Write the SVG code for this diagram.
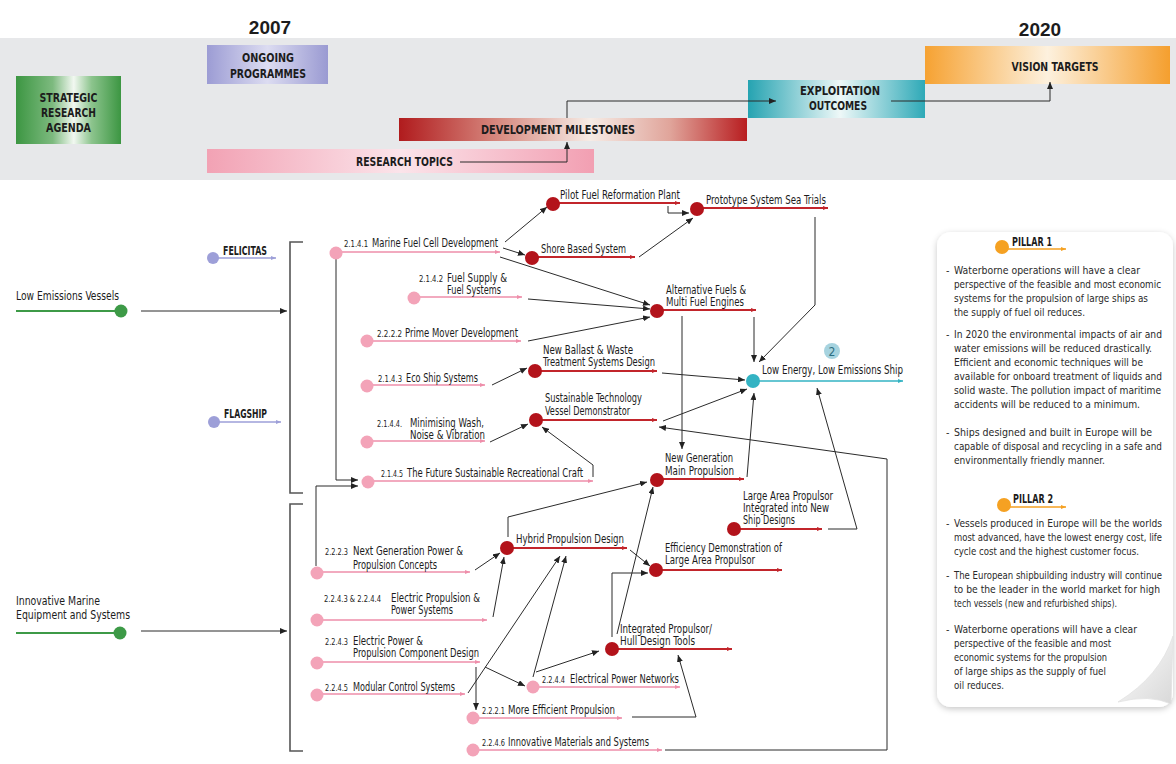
<svg xmlns="http://www.w3.org/2000/svg" width="1176" height="764" viewBox="0 0 1176 764">
<style>
.f{font-family:"Liberation Sans Narrow","Arial Narrow","DejaVu Sans Condensed","Liberation Sans",Arial,sans-serif;fill:#1c1c1c}
.l{font-size:11.8px}
.n{font-size:8.5px}
.h{font-size:11.5px;font-weight:bold}
.yr{font-size:19px;font-weight:bold;font-family:"Liberation Sans",Arial,sans-serif;fill:#1c1c1c}
.p{font-size:10.6px;fill:#2a2a2a}
.ps{font-size:9.8px}
.c{fill:none;stroke:#2b2b2b;stroke-width:1;marker-end:url(#arr)}
.pk{stroke:#ee8eaa;stroke-width:1.6;marker-end:url(#mPk)}
.rd{stroke:#c2252b;stroke-width:2;marker-end:url(#mRd)}
.pd{fill:#f3a3b8}
.rdd{fill:#b3131b}
</style>
<defs>
<marker id="arr" markerUnits="userSpaceOnUse" markerWidth="7" markerHeight="6" refX="7" refY="3" orient="auto"><path d="M0,0 L7,3 L0,6 z" fill="#222"/></marker>
<marker id="mPk" markerUnits="userSpaceOnUse" markerWidth="5" markerHeight="4" refX="5" refY="2" orient="auto"><path d="M0,0 L5,2 L0,4 z" fill="#ee8eaa"/></marker>
<marker id="mRd" markerUnits="userSpaceOnUse" markerWidth="5" markerHeight="4" refX="5" refY="2" orient="auto"><path d="M0,0 L5,2 L0,4 z" fill="#c2252b"/></marker>
<marker id="mTl" markerUnits="userSpaceOnUse" markerWidth="5" markerHeight="4" refX="5" refY="2" orient="auto"><path d="M0,0 L5,2 L0,4 z" fill="#33b3c3"/></marker>
<marker id="mLv" markerUnits="userSpaceOnUse" markerWidth="5" markerHeight="4" refX="5" refY="2" orient="auto"><path d="M0,0 L5,2 L0,4 z" fill="#9d9fd8"/></marker>
<marker id="mOr" markerUnits="userSpaceOnUse" markerWidth="5" markerHeight="4" refX="5" refY="2" orient="auto"><path d="M0,0 L5,2 L0,4 z" fill="#f5a122"/></marker>
<linearGradient id="gG" x1="0" x2="1" y1="0" y2="0"><stop offset="0" stop-color="#3c9642"/><stop offset="0.35" stop-color="#7dba7f"/><stop offset="0.55" stop-color="#f2f8f1"/><stop offset="0.72" stop-color="#8cc48d"/><stop offset="1" stop-color="#3c9642"/></linearGradient>
<linearGradient id="gP" x1="0" x2="1" y1="0" y2="0"><stop offset="0" stop-color="#9c9cd4"/><stop offset="0.5" stop-color="#dcdcf1"/><stop offset="1" stop-color="#9a9ad2"/></linearGradient>
<linearGradient id="gR" x1="0" x2="1" y1="0" y2="0"><stop offset="0" stop-color="#b01b1d"/><stop offset="0.3" stop-color="#d98f85"/><stop offset="0.55" stop-color="#f6ece6"/><stop offset="0.78" stop-color="#e0a49a"/><stop offset="1" stop-color="#b81d20"/></linearGradient>
<linearGradient id="gK" x1="0" x2="1" y1="0" y2="0"><stop offset="0" stop-color="#f2a2b4"/><stop offset="0.5" stop-color="#fbe4ea"/><stop offset="1" stop-color="#f29fb2"/></linearGradient>
<linearGradient id="gT" x1="0" x2="1" y1="0" y2="0"><stop offset="0" stop-color="#25a3b1"/><stop offset="0.52" stop-color="#eef8f8"/><stop offset="1" stop-color="#2ea9b7"/></linearGradient>
<linearGradient id="gO" x1="0" x2="1" y1="0" y2="0"><stop offset="0" stop-color="#f6a232"/><stop offset="0.5" stop-color="#fdf1de"/><stop offset="1" stop-color="#f59f2e"/></linearGradient>
<linearGradient id="gCurl" x1="0" y1="0" x2="1" y2="1"><stop offset="0" stop-color="#ffffff"/><stop offset="1" stop-color="#d8d8d8"/></linearGradient>
<filter id="sh" x="-10%" y="-10%" width="120%" height="120%"><feDropShadow dx="0" dy="2" stdDeviation="3" flood-color="#000" flood-opacity="0.22"/></filter>
</defs>

<rect x="0" y="0" width="1176" height="764" fill="#ffffff"/>
<rect x="0" y="38" width="1176" height="142" fill="#e7e8ea"/>

<g id="year-2007"><text class="yr" x="270" y="34" text-anchor="middle">2007</text></g>
<g id="year-2020"><text class="yr" x="1040" y="36" text-anchor="middle">2020</text></g>

<g id="h-sra"><rect x="16" y="76" width="105" height="68" fill="url(#gG)"/>
<text class="f h" x="68.5" y="102" text-anchor="middle" textLength="58" lengthAdjust="spacingAndGlyphs">STRATEGIC</text>
<text class="f h" x="68.5" y="117" text-anchor="middle" textLength="55" lengthAdjust="spacingAndGlyphs">RESEARCH</text>
<text class="f h" x="68.5" y="132" text-anchor="middle" textLength="45" lengthAdjust="spacingAndGlyphs">AGENDA</text></g>
<g id="h-ongoing"><rect x="207" y="45" width="121" height="39" fill="url(#gP)"/>
<text class="f h" x="268" y="62" text-anchor="middle" textLength="52" lengthAdjust="spacingAndGlyphs">ONGOING</text>
<text class="f h" x="268" y="78" text-anchor="middle" textLength="76" lengthAdjust="spacingAndGlyphs">PROGRAMMES</text></g>
<g id="h-dev"><rect x="399" y="118" width="348" height="23" fill="url(#gR)"/>
<text class="f h" x="558" y="134" text-anchor="middle" textLength="154" lengthAdjust="spacingAndGlyphs">DEVELOPMENT MILESTONES</text></g>
<g id="h-rt"><rect x="207" y="149" width="387" height="24" fill="url(#gK)"/>
<text class="f h" x="404.5" y="166" text-anchor="middle" textLength="97" lengthAdjust="spacingAndGlyphs">RESEARCH TOPICS</text></g>
<g id="h-expl"><rect x="748" y="80" width="177" height="38" fill="url(#gT)"/>
<text class="f h" x="840" y="95" text-anchor="middle" textLength="80" lengthAdjust="spacingAndGlyphs">EXPLOITATION</text>
<text class="f h" x="838" y="110" text-anchor="middle" textLength="58" lengthAdjust="spacingAndGlyphs">OUTCOMES</text></g>
<g id="h-vision"><rect x="925" y="46" width="245" height="38" fill="url(#gO)"/>
<text class="f h" x="1055" y="71" text-anchor="middle" textLength="87" lengthAdjust="spacingAndGlyphs">VISION TARGETS</text></g>

<g id="connectors">
<path class="c" d="M460,162 H567 V142"/>
<path class="c" d="M567,118 V101 H776"/>
<path class="c" d="M891,101 H1050 V82"/>
<path class="c" d="M141,311 H287"/>
<path class="c" d="M141,631 H287"/>
<path d="M303,242 H290 V493 H303" fill="none" stroke="#555" stroke-width="1.6"/>
<path d="M303,504 H290 V751 H303" fill="none" stroke="#555" stroke-width="1.6"/>
<path class="c" d="M505,242 L547,207"/>
<path class="c" d="M503,248 L525,255"/>
<path class="c" d="M500,257 L650,305"/>
<path class="c" d="M528,299 L650,309"/>
<path class="c" d="M528,341 L650,317"/>
<path class="c" d="M668,206 V213 H689"/>
<path class="c" d="M639,257 L693,218"/>
<path class="c" d="M815,217 V305 L759,362"/>
<path class="c" d="M754,317 V362"/>
<path class="c" d="M682,316 V449"/>
<path class="c" d="M492,385 L527,368"/>
<path class="c" d="M662,373 L745,380"/>
<path class="c" d="M663,421 L747,389"/>
<path class="c" d="M490,442 L528,424"/>
<path class="c" d="M593,477 V465 L542,427"/>
<path class="c" d="M665,750 H887 V459 L659,427"/>
<path class="c" d="M747,477 L754,393"/>
<path class="c" d="M828,529 H857 L817,388"/>
<path class="c" d="M508,537 V517 L647,482"/>
<path class="c" d="M630,550 L650,566"/>
<path class="c" d="M612,637 V573 H648"/>
<path class="c" d="M617,634 L653,487"/>
<path class="c" d="M475,570 L500,553"/>
<path class="c" d="M493,617 L504,557"/>
<path class="c" d="M476,667 V710"/>
<path class="c" d="M485,667 L525,686"/>
<path class="c" d="M468,693 L560,556"/>
<path class="c" d="M533,677 L566,556"/>
<path class="c" d="M536,672 L599,651"/>
<path class="c" d="M632,717 H696 L678,655"/>
<path class="c" d="M336,259 V480 H358"/>
<path class="c" d="M316,566 V486 H358"/>
</g>

<g id="n-lev"><line x1="16" y1="311" x2="121" y2="311" stroke="#3d9a47" stroke-width="2"/><circle cx="121" cy="311" r="6.5" fill="#3d9a47"/>
<text class="f l" x="16" y="300" textLength="103" lengthAdjust="spacingAndGlyphs">Low Emissions Vessels</text></g>
<g id="n-imes"><line x1="16" y1="633" x2="120" y2="633" stroke="#3d9a47" stroke-width="2"/><circle cx="120" cy="633" r="6.5" fill="#3d9a47"/>
<text class="f l" x="16" y="605" textLength="84" lengthAdjust="spacingAndGlyphs">Innovative Marine</text>
<text class="f l" x="16" y="619" textLength="114" lengthAdjust="spacingAndGlyphs">Equipment and Systems</text></g>
<g id="n-felicitas"><line x1="213" y1="258" x2="276" y2="258" stroke="#9d9fd8" stroke-width="1.5" marker-end="url(#mLv)"/><circle cx="213" cy="258" r="6" fill="#9d9fd8"/>
<text class="f h" x="223" y="255" textLength="44" lengthAdjust="spacingAndGlyphs">FELICITAS</text></g>
<g id="n-flagship"><line x1="214" y1="422" x2="281" y2="422" stroke="#9d9fd8" stroke-width="1.5" marker-end="url(#mLv)"/><circle cx="214" cy="422" r="6" fill="#9d9fd8"/>
<text class="f h" x="224" y="418" textLength="43" lengthAdjust="spacingAndGlyphs">FLAGSHIP</text></g>

<g id="n-2141"><line class="pk" x1="336" y1="252" x2="500" y2="252"/><circle class="pd" cx="336" cy="253" r="6.5"/>
<text class="f n" x="344" y="247" textLength="24" lengthAdjust="spacingAndGlyphs">2.1.4.1</text>
<text class="f l" x="372" y="247" textLength="126" lengthAdjust="spacingAndGlyphs">Marine Fuel Cell Development</text></g>
<g id="n-2142"><line class="pk" x1="414" y1="297" x2="522" y2="297"/><circle class="pd" cx="414" cy="298" r="6.5"/>
<text class="f n" x="419" y="282" textLength="24" lengthAdjust="spacingAndGlyphs">2.1.4.2</text>
<text class="f l" x="447" y="282" textLength="60" lengthAdjust="spacingAndGlyphs">Fuel Supply &amp;</text>
<text class="f l" x="447" y="294" textLength="54" lengthAdjust="spacingAndGlyphs">Fuel Systems</text></g>
<g id="n-2222"><line class="pk" x1="367" y1="341" x2="521" y2="341"/><circle class="pd" cx="367" cy="341" r="6.5"/>
<text class="f n" x="377" y="337" textLength="25" lengthAdjust="spacingAndGlyphs">2.2.2.2</text>
<text class="f l" x="405" y="337" textLength="113" lengthAdjust="spacingAndGlyphs">Prime Mover Development</text></g>
<g id="n-2143"><line class="pk" x1="367" y1="385" x2="485" y2="385"/><circle class="pd" cx="367" cy="386" r="6.5"/>
<text class="f n" x="378" y="382" textLength="24" lengthAdjust="spacingAndGlyphs">2.1.4.3</text>
<text class="f l" x="406" y="382" textLength="72" lengthAdjust="spacingAndGlyphs">Eco Ship Systems</text></g>
<g id="n-2144"><line class="pk" x1="367" y1="441" x2="485" y2="441"/><circle class="pd" cx="367" cy="442" r="6.5"/>
<text class="f n" x="377" y="427" textLength="25" lengthAdjust="spacingAndGlyphs">2.1.4.4.</text>
<text class="f l" x="410" y="427" textLength="74" lengthAdjust="spacingAndGlyphs">Minimising Wash,</text>
<text class="f l" x="410" y="439" textLength="75" lengthAdjust="spacingAndGlyphs">Noise &amp; Vibration</text></g>
<g id="n-2145"><line class="pk" x1="368" y1="481" x2="593" y2="481"/><circle class="pd" cx="368" cy="482" r="6.5"/>
<text class="f n" x="381" y="477" textLength="22" lengthAdjust="spacingAndGlyphs">2.1.4.5</text>
<text class="f l" x="407" y="477" textLength="176" lengthAdjust="spacingAndGlyphs">The Future Sustainable Recreational Craft</text></g>

<g id="n-2223"><line class="pk" x1="317" y1="572" x2="470" y2="572"/><circle class="pd" cx="317" cy="573" r="6.5"/>
<text class="f n" x="325" y="555" textLength="23" lengthAdjust="spacingAndGlyphs">2.2.2.3</text>
<text class="f l" x="353" y="555" textLength="110" lengthAdjust="spacingAndGlyphs">Next Generation Power &amp;</text>
<text class="f l" x="353" y="569" textLength="84" lengthAdjust="spacingAndGlyphs">Propulsion Concepts</text></g>
<g id="n-2243-2244"><line class="pk" x1="317" y1="620" x2="487" y2="620"/><circle class="pd" cx="317" cy="620" r="6.5"/>
<text class="f n" x="324" y="602" textLength="57" lengthAdjust="spacingAndGlyphs">2.2.4.3 &amp; 2.2.4.4</text>
<text class="f l" x="391" y="602" textLength="89" lengthAdjust="spacingAndGlyphs">Electric Propulsion &amp;</text>
<text class="f l" x="391" y="614" textLength="62" lengthAdjust="spacingAndGlyphs">Power Systems</text></g>
<g id="n-2243"><line class="pk" x1="317" y1="662" x2="480" y2="662"/><circle class="pd" cx="317" cy="663" r="6.5"/>
<text class="f n" x="325" y="645" textLength="23" lengthAdjust="spacingAndGlyphs">2.2.4.3</text>
<text class="f l" x="353" y="645" textLength="70" lengthAdjust="spacingAndGlyphs">Electric Power &amp;</text>
<text class="f l" x="353" y="657" textLength="126" lengthAdjust="spacingAndGlyphs">Propulsion Component Design</text></g>
<g id="n-2245"><line class="pk" x1="317" y1="694" x2="465" y2="694"/><circle class="pd" cx="317" cy="695" r="6.5"/>
<text class="f n" x="325" y="691" textLength="23" lengthAdjust="spacingAndGlyphs">2.2.4.5</text>
<text class="f l" x="353" y="691" textLength="102" lengthAdjust="spacingAndGlyphs">Modular Control Systems</text></g>
<g id="n-2244"><line class="pk" x1="533" y1="687" x2="680" y2="687"/><circle class="pd" cx="533" cy="687" r="6.5"/>
<text class="f n" x="542" y="683" textLength="23" lengthAdjust="spacingAndGlyphs">2.2.4.4</text>
<text class="f l" x="570" y="683" textLength="109" lengthAdjust="spacingAndGlyphs">Electrical Power Networks</text></g>
<g id="n-2221"><line class="pk" x1="473" y1="718" x2="622" y2="718"/><circle class="pd" cx="473" cy="718" r="6.5"/>
<text class="f n" x="482" y="714" textLength="23" lengthAdjust="spacingAndGlyphs">2.2.2.1</text>
<text class="f l" x="508" y="714" textLength="107" lengthAdjust="spacingAndGlyphs">More Efficient Propulsion</text></g>
<g id="n-2246"><line class="pk" x1="473" y1="750" x2="662" y2="750"/><circle class="pd" cx="473" cy="750" r="6.5"/>
<text class="f n" x="482" y="746" textLength="23" lengthAdjust="spacingAndGlyphs">2.2.4.6</text>
<text class="f l" x="508" y="746" textLength="141" lengthAdjust="spacingAndGlyphs">Innovative Materials and Systems</text></g>

<g id="n-pilot"><line class="rd" x1="553" y1="203" x2="680" y2="203"/><circle class="rdd" cx="553" cy="204" r="7"/>
<text class="f l" x="560" y="199" textLength="120" lengthAdjust="spacingAndGlyphs">Pilot Fuel Reformation Plant</text></g>
<g id="n-proto"><line class="rd" x1="697" y1="208" x2="828" y2="208"/><circle class="rdd" cx="697" cy="209" r="7"/>
<text class="f l" x="706" y="204" textLength="120" lengthAdjust="spacingAndGlyphs">Prototype System Sea Trials</text></g>
<g id="n-shore"><line class="rd" x1="532" y1="257" x2="635" y2="257"/><circle class="rdd" cx="532" cy="258" r="7"/>
<text class="f l" x="541" y="253" textLength="85" lengthAdjust="spacingAndGlyphs">Shore Based System</text></g>
<g id="n-altfuel"><line class="rd" x1="657" y1="310" x2="756" y2="310"/><circle class="rdd" cx="657" cy="311" r="7"/>
<text class="f l" x="666" y="294" textLength="80" lengthAdjust="spacingAndGlyphs">Alternative Fuels &amp;</text>
<text class="f l" x="666" y="306" textLength="78" lengthAdjust="spacingAndGlyphs">Multi Fuel Engines</text></g>
<g id="n-ballast"><line class="rd" x1="535" y1="371" x2="657" y2="371"/><circle class="rdd" cx="535" cy="371" r="7"/>
<text class="f l" x="543" y="354" textLength="90" lengthAdjust="spacingAndGlyphs">New Ballast &amp; Waste</text>
<text class="f l" x="543" y="366" textLength="112" lengthAdjust="spacingAndGlyphs">Treatment Systems Design</text></g>
<g id="n-sustech"><line class="rd" x1="536" y1="420" x2="657" y2="420"/><circle class="rdd" cx="536" cy="420" r="7"/>
<text class="f l" x="545" y="402" textLength="97" lengthAdjust="spacingAndGlyphs">Sustainable Technology</text>
<text class="f l" x="545" y="415" textLength="85" lengthAdjust="spacingAndGlyphs">Vessel Demonstrator</text></g>
<g id="n-lowenergy"><line x1="753" y1="381" x2="903" y2="381" stroke="#33b3c3" stroke-width="1.6" marker-end="url(#mTl)"/><circle cx="753" cy="381" r="7" fill="#33b3c3"/>
<text class="f l" x="762" y="374" textLength="141" lengthAdjust="spacingAndGlyphs">Low Energy, Low Emissions Ship</text>
<circle cx="832" cy="351" r="8" fill="#a6d3df"/>
<text class="f" x="832" y="356" text-anchor="middle" style="font-size:12px;fill:#2c6e80">2</text></g>
<g id="n-newgen"><line class="rd" x1="657" y1="479" x2="744" y2="479"/><circle class="rdd" cx="657" cy="480" r="7"/>
<text class="f l" x="665" y="462" textLength="68" lengthAdjust="spacingAndGlyphs">New Generation</text>
<text class="f l" x="665" y="475" textLength="69" lengthAdjust="spacingAndGlyphs">Main Propulsion</text></g>
<g id="n-largearea"><line class="rd" x1="734" y1="529" x2="822" y2="529"/><circle class="rdd" cx="734" cy="529" r="7"/>
<text class="f l" x="743" y="500" textLength="90" lengthAdjust="spacingAndGlyphs">Large Area Propulsor</text>
<text class="f l" x="743" y="512" textLength="86" lengthAdjust="spacingAndGlyphs">Integrated into New</text>
<text class="f l" x="743" y="524" textLength="52" lengthAdjust="spacingAndGlyphs">Ship Designs</text></g>
<g id="n-hybrid"><line class="rd" x1="507" y1="548" x2="627" y2="548"/><circle class="rdd" cx="507" cy="548" r="7"/>
<text class="f l" x="516" y="543" textLength="108" lengthAdjust="spacingAndGlyphs">Hybrid Propulsion Design</text></g>
<g id="n-efficiency"><line class="rd" x1="656" y1="570" x2="782" y2="570"/><circle class="rdd" cx="656" cy="570" r="7"/>
<text class="f l" x="665" y="552" textLength="117" lengthAdjust="spacingAndGlyphs">Efficiency Demonstration of</text>
<text class="f l" x="665" y="564" textLength="90" lengthAdjust="spacingAndGlyphs">Large Area Propulsor</text></g>
<g id="n-integrated"><line class="rd" x1="612" y1="649" x2="732" y2="649"/><circle class="rdd" cx="612" cy="649" r="7"/>
<text class="f l" x="620" y="633" textLength="92" lengthAdjust="spacingAndGlyphs">Integrated Propulsor/</text>
<text class="f l" x="620" y="645" textLength="75" lengthAdjust="spacingAndGlyphs">Hull Design Tools</text></g>

<g id="panel">
<rect x="937" y="232" width="236" height="475" rx="14" fill="#ffffff" filter="url(#sh)"/>
<path d="M1173,636 Q1160,676 1118,702 Q1150,694 1171,704 Z" fill="url(#gCurl)" stroke="#e2e2e2" stroke-width="0.8"/>
<g id="pillar1">
<line x1="1002" y1="249" x2="1066" y2="249" stroke="#f5a122" stroke-width="1.3" marker-end="url(#mOr)"/><circle cx="1002" cy="247" r="7" fill="#f5a122"/>
<text class="f h" x="1012" y="246" textLength="40" lengthAdjust="spacingAndGlyphs">PILLAR 1</text>
<text class="f p" x="946" y="274">-</text>
<text class="f p" x="954" y="274" textLength="186" lengthAdjust="spacingAndGlyphs">Waterborne operations will have a clear</text>
<text class="f p" x="954" y="288" textLength="207" lengthAdjust="spacingAndGlyphs">perspective of the feasible and most economic</text>
<text class="f p" x="954" y="302" textLength="194" lengthAdjust="spacingAndGlyphs">systems for the propulsion of large ships as</text>
<text class="f p" x="954" y="316" textLength="131" lengthAdjust="spacingAndGlyphs">the supply of fuel oil reduces.</text>
<text class="f p" x="946" y="338">-</text>
<text class="f p" x="954" y="338" textLength="208" lengthAdjust="spacingAndGlyphs">In 2020 the environmental impacts of air and</text>
<text class="f p" x="954" y="352" textLength="198" lengthAdjust="spacingAndGlyphs">water emissions will be reduced drastically.</text>
<text class="f p" x="954" y="366" textLength="189" lengthAdjust="spacingAndGlyphs">Efficient and economic techniques will be</text>
<text class="f p" x="954" y="380" textLength="208" lengthAdjust="spacingAndGlyphs">available for onboard treatment of liquids and</text>
<text class="f p" x="954" y="394" textLength="207" lengthAdjust="spacingAndGlyphs">solid waste. The pollution impact of maritime</text>
<text class="f p" x="954" y="408" textLength="186" lengthAdjust="spacingAndGlyphs">accidents will be reduced to a minimum.</text>
<text class="f p" x="946" y="436">-</text>
<text class="f p" x="954" y="436" textLength="198" lengthAdjust="spacingAndGlyphs">Ships designed and built in Europe will be</text>
<text class="f p" x="954" y="450" textLength="208" lengthAdjust="spacingAndGlyphs">capable of disposal and recycling in a safe and</text>
<text class="f p" x="954" y="464" textLength="151" lengthAdjust="spacingAndGlyphs">environmentally friendly manner.</text>
</g>
<g id="pillar2">
<line x1="1004" y1="507" x2="1066" y2="507" stroke="#f5a122" stroke-width="1.3" marker-end="url(#mOr)"/><circle cx="1004" cy="505" r="7" fill="#f5a122"/>
<text class="f h" x="1013" y="503" textLength="40" lengthAdjust="spacingAndGlyphs">PILLAR 2</text>
<text class="f p" x="946" y="527">-</text>
<text class="f p" x="954" y="527" textLength="208" lengthAdjust="spacingAndGlyphs">Vessels produced in Europe will be the worlds</text>
<text class="f p ps" x="954" y="541" textLength="208" lengthAdjust="spacingAndGlyphs">most advanced, have the lowest energy cost, life</text>
<text class="f p" x="954" y="555" textLength="185" lengthAdjust="spacingAndGlyphs">cycle cost and the highest customer focus.</text>
<text class="f p" x="946" y="579">-</text>
<text class="f p ps" x="954" y="579" textLength="208" lengthAdjust="spacingAndGlyphs">The European shipbuilding industry will continue</text>
<text class="f p" x="954" y="593" textLength="206" lengthAdjust="spacingAndGlyphs">to be the leader in the world market for high</text>
<text class="f p" x="954" y="607" textLength="163" lengthAdjust="spacingAndGlyphs">tech vessels (new and refurbished ships).</text>
<text class="f p" x="946" y="633">-</text>
<text class="f p" x="954" y="633" textLength="183" lengthAdjust="spacingAndGlyphs">Waterborne operations will have a clear</text>
<text class="f p" x="954" y="647" textLength="157" lengthAdjust="spacingAndGlyphs">perspective of the feasible and most</text>
<text class="f p" x="954" y="661" textLength="153" lengthAdjust="spacingAndGlyphs">economic systems for the propulsion</text>
<text class="f p" x="954" y="675" textLength="152" lengthAdjust="spacingAndGlyphs">of large ships as the supply of fuel</text>
<text class="f p" x="954" y="689" textLength="50" lengthAdjust="spacingAndGlyphs">oil reduces.</text>
</g>
</g>
</svg>
